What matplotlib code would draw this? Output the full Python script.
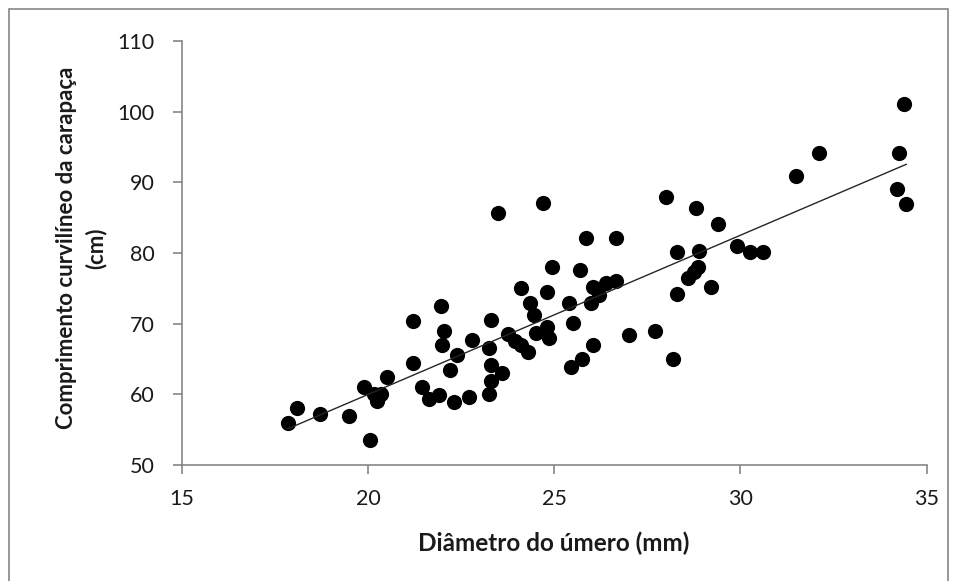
import numpy as np
import matplotlib
matplotlib.use("Agg")
import matplotlib.pyplot as plt
from matplotlib.patches import Rectangle

plt.rcParams['font.family'] = ['Lato', 'DejaVu Sans']

diametro = [17.85, 18.1, 18.7, 19.5, 19.9, 20.05, 20.15, 20.25, 20.35, 20.5,
            21.2, 21.2, 21.45, 21.65, 21.9, 21.95, 22.05, 22.0, 22.2, 22.3,
            22.4, 22.7, 22.8, 23.25, 23.25, 23.3, 23.3, 23.3, 23.6, 23.5,
            23.75, 23.95, 24.1, 24.1, 24.3, 24.35, 24.45, 24.5, 24.7, 24.8,
            24.8, 24.85, 24.95, 25.4, 25.5, 25.45, 25.7, 25.75, 25.85, 26.0,
            26.05, 26.05, 26.2, 26.4, 26.65, 26.65, 27.0, 27.7, 28.0, 28.2,
            28.3, 28.3, 28.6, 28.75, 28.85, 28.8, 28.9, 29.2, 29.4, 29.9,
            30.25, 30.6, 31.5, 32.1, 34.2, 34.25, 34.4, 34.45]
comprimento = [56.0, 58.0, 57.2, 57.0, 61.0, 53.5, 60.0, 59.0, 60.0, 62.4,
               70.4, 64.4, 61.0, 59.4, 59.9, 72.5, 69.0, 67.0, 63.5, 58.9,
               65.6, 59.6, 67.7, 60.0, 66.5, 70.5, 64.1, 61.9, 63.0, 85.6,
               68.5, 67.5, 67.0, 75.0, 66.0, 72.9, 71.2, 68.7, 87.0, 74.5,
               69.5, 68.0, 78.0, 72.9, 70.1, 63.9, 77.6, 65.0, 82.1, 72.9,
               75.2, 67.0, 74.0, 75.7, 76.0, 82.1, 68.4, 69.0, 87.9, 65.0,
               80.1, 74.2, 76.5, 77.3, 78.0, 86.4, 80.2, 75.2, 84.1, 81.0,
               80.1, 80.1, 90.9, 94.1, 89.0, 94.1, 101.0, 86.9]

x_ticks = [15, 20, 25, 30, 35]
y_ticks = [50, 60, 70, 80, 90, 100, 110]

fig = plt.figure(figsize=(9.56, 5.81), dpi=100)
fig.patches.append(Rectangle((9/956, -0.1), 939/956, 1 - 9/581 + 0.1,
                             transform=fig.transFigure, fill=False,
                             edgecolor='#868686', linewidth=1.2))
ax = fig.add_axes([181.7/956, 1 - 465/581, (926.7 - 181.7)/956, (465 - 40.8)/581])

x = np.array(diametro)
y = np.array(comprimento)
ax.scatter(x, y, s=120, color='black', zorder=3, linewidths=0)
m, b = np.polyfit(x, y, 1)
xl = np.array([x.min(), x.max()])
ax.plot(xl, m * xl + b, color='#262626', linewidth=1.0, zorder=4)

ax.set_xlim(15, 35)
ax.set_ylim(50, 110)
ax.set_xticks(x_ticks)
ax.set_yticks(y_ticks)
for s in ['top', 'right']:
    ax.spines[s].set_visible(False)
for s in ['left', 'bottom']:
    ax.spines[s].set_color('#868686')
    ax.spines[s].set_linewidth(1.2)
ax.tick_params(direction='out', length=6.5, width=1.2, color='#868686',
               labelsize=15.5, labelcolor='#1a1a1a')
ax.tick_params(axis='y', pad=13)
ax.tick_params(axis='x', pad=11)

ax.set_xlabel('Diâmetro do úmero (mm)', fontsize=17.5, fontweight='bold',
              color='#1a1a1a')
ax.xaxis.label.set_verticalalignment('baseline')
ax.xaxis.set_label_coords(0.499, (465 - 551) / 424.2)

ax.set_ylabel('Comprimento curvilíneo da carapaça\n(cm)', fontsize=16,
              fontweight='bold', color='#1a1a1a', linespacing=1.45)
ax.yaxis.set_label_coords((107 - 181.7) / 745, 0.512)

fig.savefig('out.png', dpi=100)
